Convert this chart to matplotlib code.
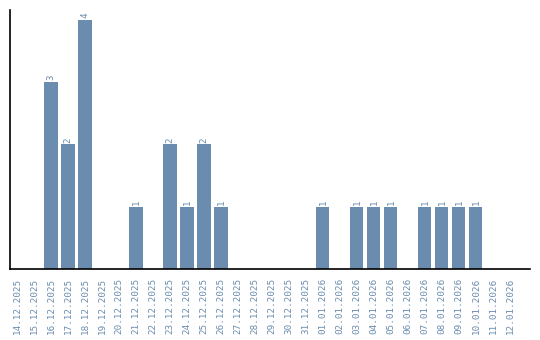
import numpy as np
import matplotlib
matplotlib.use("Agg")
import matplotlib.pyplot as plt

# dates shown on the x axis
dates = ["14.12.2025", "15.12.2025", "16.12.2025", "17.12.2025", "18.12.2025",
         "19.12.2025", "20.12.2025", "21.12.2025", "22.12.2025", "23.12.2025",
         "24.12.2025", "25.12.2025", "26.12.2025", "27.12.2025", "28.12.2025",
         "29.12.2025", "30.12.2025", "31.12.2025", "01.01.2026", "02.01.2026",
         "03.01.2026", "04.01.2026", "05.01.2026", "06.01.2026", "07.01.2026",
         "08.01.2026", "09.01.2026", "10.01.2026", "11.01.2026", "12.01.2026"]
counts = [0, 0, 3, 2, 4, 0, 0, 1, 0, 2, 1, 2, 1, 0, 0,
          0, 0, 0, 1, 0, 1, 1, 1, 0, 1, 1, 1, 1, 0, 0]

col = "#6a8caf"
fs = 6.7

fig = plt.figure(figsize=(5.4, 3.4), dpi=100)
ax = fig.add_axes([10/540, 71/340, 520/540, 259/340])

x = np.arange(len(dates))
ax.bar(x, counts, width=0.77, color=col)
for xi, c in zip(x, counts):
    if c > 0:
        ax.text(xi, c + 0.03, str(c), rotation=90, ha="center", va="bottom",
                color=col, fontsize=fs, family="DejaVu Sans Mono")

ax.set_xlim(-0.41, 30.18)
ax.set_ylim(0, 4.16)
ax.set_xticks(x)
ax.set_xticklabels(dates, rotation=90, color=col, fontsize=fs, family="DejaVu Sans Mono")
ax.set_yticks([])
ax.tick_params(axis="x", length=0, pad=6)
ax.spines["top"].set_visible(False)
ax.spines["right"].set_visible(False)
ax.spines["left"].set_linewidth(1.2)
ax.spines["bottom"].set_linewidth(1.2)

plt.savefig("out.png")
